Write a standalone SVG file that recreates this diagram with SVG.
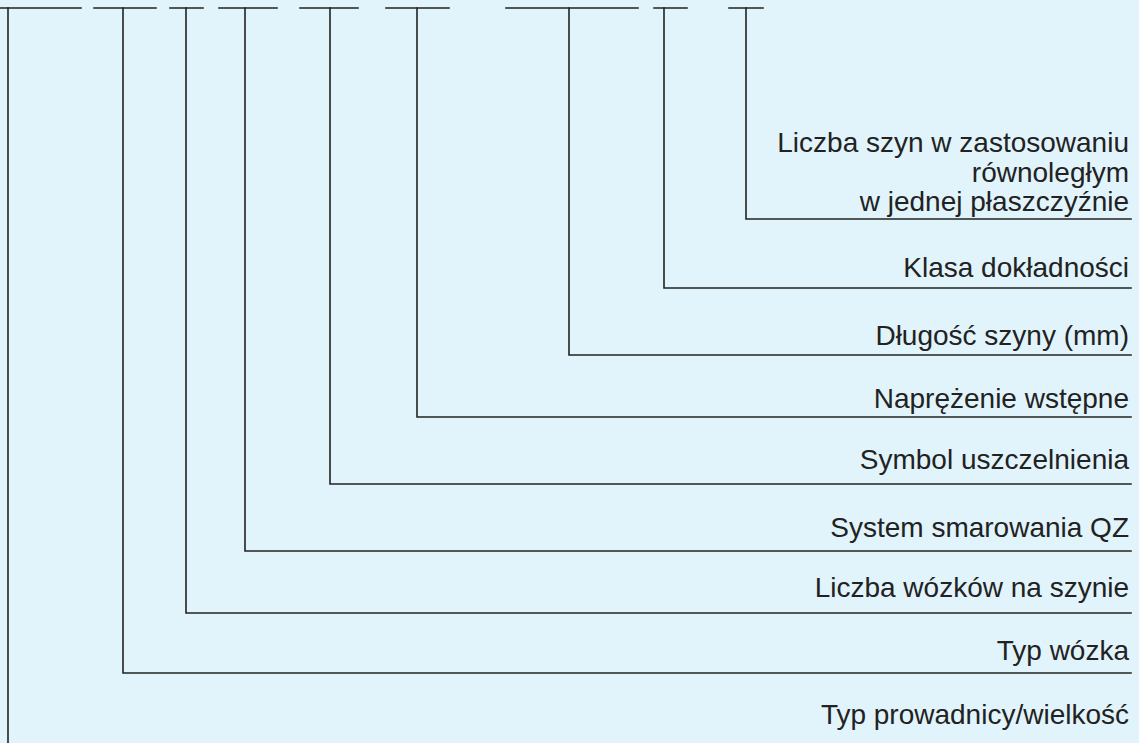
<svg xmlns="http://www.w3.org/2000/svg" width="1139" height="743" viewBox="0 0 1139 743">
<style>
.bg{fill:#e1f4fb}
.ln{fill:none;stroke:#222;stroke-width:1.6;stroke-linecap:square}
.lb{font-family:"Liberation Sans",Arial,sans-serif;font-size:28px;fill:#222;text-anchor:end}
</style>
<rect class="bg" x="0" y="0" width="1139" height="743"/>
<g id="connectors">
<path class="ln" d="M0,8H81 M94,8H156 M170,8H203 M219,8H277 M300,8H358 M386,8H449 M506,8H638 M654,8H687 M729,8H763"/>
<path class="ln" d="M8,8V743"/>
<path class="ln" d="M123,8V673H1131"/>
<path class="ln" d="M186,8V613H1131"/>
<path class="ln" d="M245,8V551H1131"/>
<path class="ln" d="M330,8V484H1131"/>
<path class="ln" d="M417,8V417H1131"/>
<path class="ln" d="M569,8V355H1131"/>
<path class="ln" d="M664,8V288H1131"/>
<path class="ln" d="M746,8V219H1131"/>
</g>
<g id="n1"><text class="lb" x="1129" y="152">Liczba szyn w zastosowaniu</text><text class="lb" x="1129" y="182">równoległym</text><text class="lb" x="1129" y="211">w jednej płaszczyźnie</text></g>
<g id="n2"><text class="lb" x="1129" y="277">Klasa dokładności</text></g>
<g id="n3"><text class="lb" x="1129" y="345">Długość szyny (mm)</text></g>
<g id="n4"><text class="lb" x="1129" y="408">Naprężenie wstępne</text></g>
<g id="n5"><text class="lb" x="1129" y="469">Symbol uszczelnienia</text></g>
<g id="n6"><text class="lb" x="1129" y="537">System smarowania QZ</text></g>
<g id="n7"><text class="lb" x="1129" y="597">Liczba wózków na szynie</text></g>
<g id="n8"><text class="lb" x="1129" y="660">Typ wózka</text></g>
<g id="n9"><text class="lb" x="1129" y="724">Typ prowadnicy/wielkość</text></g>
</svg>
